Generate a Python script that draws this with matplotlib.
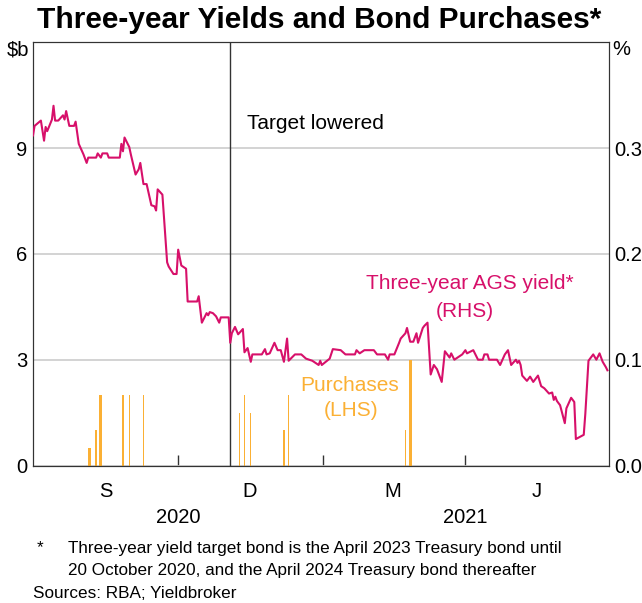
import matplotlib
matplotlib.use('Agg')
import matplotlib.pyplot as plt
import matplotlib.dates as mdates
import matplotlib.ticker as mticker
import pandas as pd

plt.rcParams['font.family'] = ['Liberation Sans', 'DejaVu Sans']

# Rendement obligataire a trois ans (%)
yield_dates = [
    '2020-07-01', '2020-07-02', '2020-07-06', '2020-07-08', '2020-07-09', '2020-07-10',
    '2020-07-13', '2020-07-14', '2020-07-15', '2020-07-17', '2020-07-20', '2020-07-21',
    '2020-07-22', '2020-07-24', '2020-07-27', '2020-07-28', '2020-07-30', '2020-08-02',
    '2020-08-04', '2020-08-05', '2020-08-10', '2020-08-11', '2020-08-13', '2020-08-14',
    '2020-08-17', '2020-08-18', '2020-08-25', '2020-08-26', '2020-08-27', '2020-08-28',
    '2020-08-31', '2020-09-01', '2020-09-04', '2020-09-06', '2020-09-07', '2020-09-09',
    '2020-09-11', '2020-09-14', '2020-09-16', '2020-09-17', '2020-09-18', '2020-09-21',
    '2020-09-24', '2020-09-25', '2020-09-28', '2020-09-30', '2020-10-01', '2020-10-03',
    '2020-10-05', '2020-10-06', '2020-10-07', '2020-10-13', '2020-10-14', '2020-10-16',
    '2020-10-19', '2020-10-20', '2020-10-21', '2020-10-23', '2020-10-25', '2020-10-27',
    '2020-10-28', '2020-11-02', '2020-11-03', '2020-11-04', '2020-11-06', '2020-11-08',
    '2020-11-11', '2020-11-12', '2020-11-14', '2020-11-16', '2020-11-17', '2020-11-23',
    '2020-11-25', '2020-11-26', '2020-11-28', '2020-12-01', '2020-12-03', '2020-12-05',
    '2020-12-07', '2020-12-09', '2020-12-10', '2020-12-14', '2020-12-18', '2020-12-21',
    '2020-12-25', '2020-12-29', '2020-12-30', '2020-12-31', '2021-01-05', '2021-01-07',
    '2021-01-12', '2021-01-15', '2021-01-21', '2021-01-22', '2021-01-24', '2021-01-27',
    '2021-02-02', '2021-02-04', '2021-02-09', '2021-02-11', '2021-02-12', '2021-02-15',
    '2021-02-18', '2021-02-19', '2021-02-22', '2021-02-23', '2021-02-25', '2021-02-27',
    '2021-03-01', '2021-03-02', '2021-03-05', '2021-03-06', '2021-03-08', '2021-03-10',
    '2021-03-12', '2021-03-14', '2021-03-17', '2021-03-19', '2021-03-22', '2021-03-23',
    '2021-03-25', '2021-03-30', '2021-04-01', '2021-04-02', '2021-04-06', '2021-04-09',
    '2021-04-12', '2021-04-13', '2021-04-15', '2021-04-16', '2021-04-21', '2021-04-23',
    '2021-04-26', '2021-04-28', '2021-04-29', '2021-04-30', '2021-05-03', '2021-05-04',
    '2021-05-05', '2021-05-06', '2021-05-07', '2021-05-10', '2021-05-12', '2021-05-14',
    '2021-05-17', '2021-05-19', '2021-05-21', '2021-05-24', '2021-05-26', '2021-05-27',
    '2021-05-28', '2021-05-29', '2021-05-31', '2021-06-03', '2021-06-04', '2021-06-07',
    '2021-06-09', '2021-06-10', '2021-06-15', '2021-06-16', '2021-06-18', '2021-06-21',
    '2021-06-23', '2021-06-25', '2021-06-27', '2021-06-29', '2021-06-30',
]
yield_values = [
    0.312, 0.321, 0.326, 0.307, 0.320, 0.316,
    0.327, 0.340, 0.326, 0.326, 0.331, 0.327,
    0.335, 0.321, 0.321, 0.325, 0.304, 0.294,
    0.286, 0.291, 0.291, 0.295, 0.291, 0.295,
    0.295, 0.291, 0.291, 0.304, 0.297, 0.310,
    0.301, 0.294, 0.275, 0.280, 0.286, 0.266,
    0.266, 0.246, 0.245, 0.241, 0.261, 0.256,
    0.192, 0.188, 0.181, 0.181, 0.204, 0.189,
    0.187, 0.186, 0.155, 0.155, 0.160, 0.135,
    0.144, 0.142, 0.145, 0.144, 0.141, 0.135,
    0.140, 0.140, 0.116, 0.125, 0.131, 0.124,
    0.129, 0.107, 0.111, 0.098, 0.105, 0.105,
    0.110, 0.105, 0.106, 0.116, 0.109, 0.109,
    0.098, 0.120, 0.099, 0.105, 0.105, 0.101,
    0.099, 0.095, 0.099, 0.095, 0.101, 0.110,
    0.109, 0.105, 0.105, 0.109, 0.106, 0.109,
    0.109, 0.105, 0.105, 0.100, 0.105, 0.105,
    0.116, 0.120, 0.125, 0.130, 0.117, 0.117,
    0.125, 0.116, 0.130, 0.132, 0.135, 0.086,
    0.095, 0.091, 0.079, 0.108, 0.102, 0.106,
    0.100, 0.105, 0.109, 0.106, 0.109, 0.100,
    0.100, 0.105, 0.105, 0.100, 0.100, 0.095,
    0.105, 0.109, 0.102, 0.095, 0.100, 0.097,
    0.099, 0.095, 0.085, 0.080, 0.084, 0.079,
    0.085, 0.075, 0.073, 0.068, 0.069, 0.062,
    0.065, 0.061, 0.057, 0.040, 0.054, 0.064,
    0.060, 0.025, 0.029, 0.049, 0.099, 0.105,
    0.100, 0.106, 0.098, 0.093, 0.090,
]

# Achats d'obligations ($b)
purchase_dates = [
    '2020-08-05', '2020-08-06', '2020-08-10', '2020-08-12', '2020-08-13', '2020-08-27',
    '2020-08-31', '2020-09-09', '2020-11-09', '2020-11-12', '2020-11-16', '2020-12-07',
    '2020-12-10', '2021-02-22', '2021-02-25', '2021-02-26',
]
purchase_values = [0.5, 0.5, 1.0, 2.0, 2.0, 2.0, 2.0, 2.0, 1.5, 2.0, 1.5, 1.0, 2.0, 1.0, 3.0, 3.0]

target_lowered = '2020-11-03'
quarter_labels = ['S', 'D', 'M', 'J']
quarter_mids = ['2020-08-16', '2020-11-15', '2021-02-14', '2021-05-16']
year_labels = ['2020', '2021']
year_mids = ['2020-10-01', '2021-04-01']
left_ticks = [0, 3, 6, 9]
right_ticks = [0.0, 0.1, 0.2, 0.3]

pink = '#D7106A'
orange = '#FBB034'

fig = plt.figure(figsize=(6.42, 6.03), dpi=100)
W, H = 642, 603
ax = fig.add_axes([33 / W, 1 - 465.5 / H, 576 / W, 423.2 / H])
ax2 = ax.twinx()

# barres (LHS)
ax.bar(pd.to_datetime(purchase_dates), purchase_values, width=0.9, color=orange, zorder=2)
ax.axvline(pd.to_datetime(target_lowered), color='#333333', lw=1.0, zorder=3)

ax.set_xlim(pd.Timestamp('2020-07-01'), pd.Timestamp('2021-07-01'))
ax.set_ylim(0, 12)
ax.set_yticks(left_ticks)
ax.yaxis.grid(True, color='#CCCCCC', lw=1.2)
ax.set_axisbelow(True)

# ligne (RHS)
ax2.plot(pd.to_datetime(yield_dates), yield_values, color=pink, lw=1.5, zorder=4)
ax2.set_ylim(0, 0.4)
ax2.set_yticks(right_ticks)
ax2.yaxis.set_major_formatter(mticker.FormatStrFormatter('%.1f'))

# axe des x
ax.xaxis.set_major_locator(mticker.FixedLocator(
    mdates.date2num(pd.to_datetime(['2020-10-01', '2021-01-01', '2021-04-01']))))
ax.xaxis.set_major_formatter(mticker.NullFormatter())
ax.xaxis.set_minor_locator(mticker.FixedLocator(mdates.date2num(pd.to_datetime(quarter_mids))))
ax.xaxis.set_minor_formatter(mticker.FixedFormatter(quarter_labels))
ax.tick_params(axis='x', which='major', direction='in', length=8, width=1, color='#333333')
ax.tick_params(axis='x', which='minor', length=0, pad=12, labelsize=14.5)
ax.tick_params(axis='y', length=0, pad=4, labelsize=14.5)
ax2.tick_params(axis='y', length=0, pad=4, labelsize=14.5)

for name in ['left', 'right', 'top', 'bottom']:
    ax.spines[name].set_color('#333333')
    ax2.spines[name].set_color('#333333')

for lab, d in zip(year_labels, year_mids):
    ax.text(pd.to_datetime(d), -0.122, lab, transform=ax.get_xaxis_transform(),
            ha='center', va='center', fontsize=14.5)

# unites
ax.text(-0.006, 0.982, r'\$b', transform=ax.transAxes, ha='right', va='center', fontsize=14.5)
ax.text(1.006, 0.982, '%', transform=ax.transAxes, ha='left', va='center', fontsize=14.5)

# annotations
ax.text(0.3715, 0.809, 'Target lowered', transform=ax.transAxes, ha='left', va='center', fontsize=15)
ax.text(0.759, 0.431, 'Three-year AGS yield*', transform=ax.transAxes, ha='center', va='center',
        fontsize=15, color=pink)
ax.text(0.750, 0.363, '(RHS)', transform=ax.transAxes, ha='center', va='center', fontsize=15, color=pink)
ax.text(0.550, 0.188, 'Purchases', transform=ax.transAxes, ha='center', va='center', fontsize=15, color=orange)
ax.text(0.552, 0.131, '(LHS)', transform=ax.transAxes, ha='center', va='center', fontsize=15, color=orange)

fig.text(0.497, 1 - 20 / H, 'Three-year Yields and Bond Purchases*', ha='center', va='center',
         fontsize=21.5, fontweight='bold')

fig.text(37 / W, 1 - 548 / H, '*', ha='left', va='center', fontsize=12.3)
fig.text(68 / W, 1 - 548 / H, 'Three-year yield target bond is the April 2023 Treasury bond until',
         ha='left', va='center', fontsize=12.3)
fig.text(68 / W, 1 - 570 / H, '20 October 2020, and the April 2024 Treasury bond thereafter',
         ha='left', va='center', fontsize=12.3)
fig.text(33 / W, 1 - 593 / H, 'Sources: RBA; Yieldbroker', ha='left', va='center', fontsize=12.3)

fig.savefig('out.png', dpi=100)
